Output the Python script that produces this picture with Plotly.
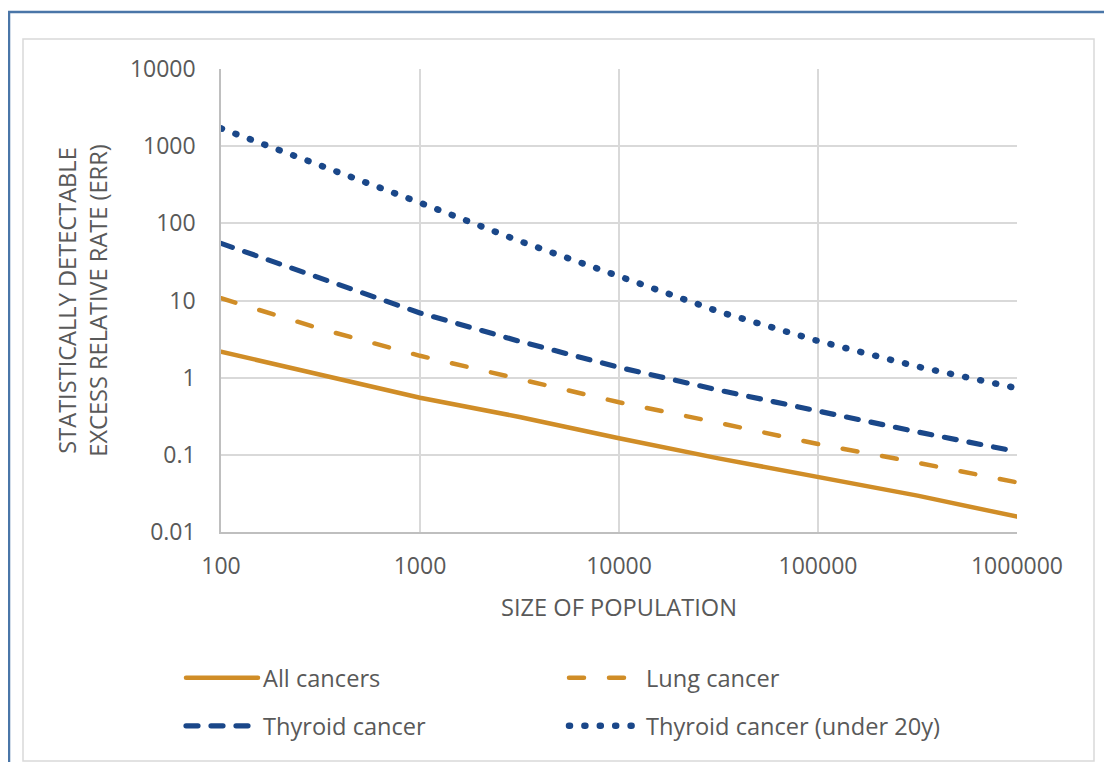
import plotly.graph_objects as go

# population sizes (x) and detectable ERR for each group
population = [100, 316, 1000, 3162, 10000, 31623, 100000, 316228, 1000000]
all_cancers = [2.17, 1.1, 0.55, 0.31, 0.164, 0.090, 0.052, 0.0296, 0.0158]
lung_cancer = [10.7, 4.3, 1.92, 0.95, 0.48, 0.26, 0.138, 0.079, 0.044]
thyroid_cancer = [55, 19.1, 6.9, 2.96, 1.36, 0.69, 0.363, 0.198, 0.11]
thyroid_under20 = [1700, 575, 185, 59, 20.3, 7.2, 2.99, 1.39, 0.73]

x_ticks = [100, 1000, 10000, 100000, 1000000]
x_labels = ["100", "1000", "10000", "100000", "1000000"]
y_ticks = [0.01, 0.1, 1, 10, 100, 1000, 10000]
y_labels = ["0.01", "0.1", "1", "10", "100", "1000", "10000"]

ORANGE = "#D08D27"
BLUE = "#1A4789"
GREY_TXT = "#595959"
FONT = "Open Sans"
FS_TICK = 23
FS = 23.6

W, H = 1112, 762
OFF = 8  # page body margin
L, T = 213, 61
pw, ph = 796, 463
R, B = W - L - pw, H - T - ph


def px_x(p):
    return (p - OFF - L) / pw


def px_y(p):
    return (T + ph - (p - OFF)) / ph


fig = go.Figure()
fig.add_trace(go.Scatter(x=population, y=all_cancers, name="All cancers", mode="lines",
                         line=dict(color=ORANGE, width=4.5), legend="legend"))
fig.add_trace(go.Scatter(x=population, y=lung_cancer, name="Lung cancer", mode="lines",
                         line=dict(color=ORANGE, width=4.5, dash="15px,25px"), legend="legend"))
fig.add_trace(go.Scatter(x=population, y=thyroid_cancer, name="Thyroid cancer", mode="lines",
                         line=dict(color=BLUE, width=5.2, dash="12px,13px"), legend="legend2"))
fig.add_trace(go.Scatter(x=population, y=thyroid_under20, name="Thyroid cancer (under 20y)",
                         mode="lines", line=dict(color=BLUE, width=6.5, dash="1px,14.4px"),
                         legend="legend2"))

axis_common = dict(type="log", showgrid=True, gridcolor="#D9D9D9", gridwidth=1.5,
                   zeroline=False, ticks="",
                   tickfont=dict(size=FS_TICK, color=GREY_TXT, family=FONT))

fig.update_xaxes(range=[2, 6], tickvals=x_ticks, ticktext=x_labels, showline=True,
                 linecolor="#BFBFBF", linewidth=1.5, ticklabelstandoff=13,
                 title=dict(text="SIZE OF POPULATION", standoff=19,
                            font=dict(size=FS, color=GREY_TXT, family=FONT)),
                 **axis_common)
fig.update_yaxes(range=[-2, 4], tickvals=y_ticks, ticktext=y_labels, showline=True,
                 linecolor="#BFBFBF", linewidth=1.5, ticklabelstandoff=19,
                 title=dict(text="STATISTICALLY DETECTABLE<br>EXCESS RELATIVE RATE (ERR)",
                            standoff=16, font=dict(size=FS, color=GREY_TXT, family=FONT)),
                 **axis_common)

legend_common = dict(orientation="h", xanchor="left", yanchor="middle",
                     entrywidth=296, entrywidthmode="pixels", itemwidth=72,
                     font=dict(size=FS, color=GREY_TXT, family=FONT),
                     bgcolor="rgba(0,0,0,0)")

fig.update_layout(
    width=W, height=H,
    margin=dict(l=L, r=R, t=T, b=B, autoexpand=False),
    paper_bgcolor="white", plot_bgcolor="white",
    font=dict(family=FONT, color=GREY_TXT),
    legend=dict(x=px_x(181), y=px_y(678), **legend_common),
    legend2=dict(x=px_x(181), y=px_y(726), **legend_common),
    shapes=[
        # outer blue frame
        dict(type="rect", xref="paper", yref="paper", x0=px_x(9), x1=px_x(1140),
             y0=px_y(790), y1=px_y(12), line=dict(color="#4A76A8", width=2.5), layer="below"),
        # chart area frame
        dict(type="rect", xref="paper", yref="paper", x0=px_x(23), x1=px_x(1094),
             y0=px_y(761), y1=px_y(39), line=dict(color="#D9D9D9", width=1.5), layer="below"),
    ],
)

round_caps = ("document.querySelectorAll('path.js-line').forEach("
              "function(p){p.style.strokeLinecap='round';});")
fig.write_html("out.html", post_script=round_caps)
